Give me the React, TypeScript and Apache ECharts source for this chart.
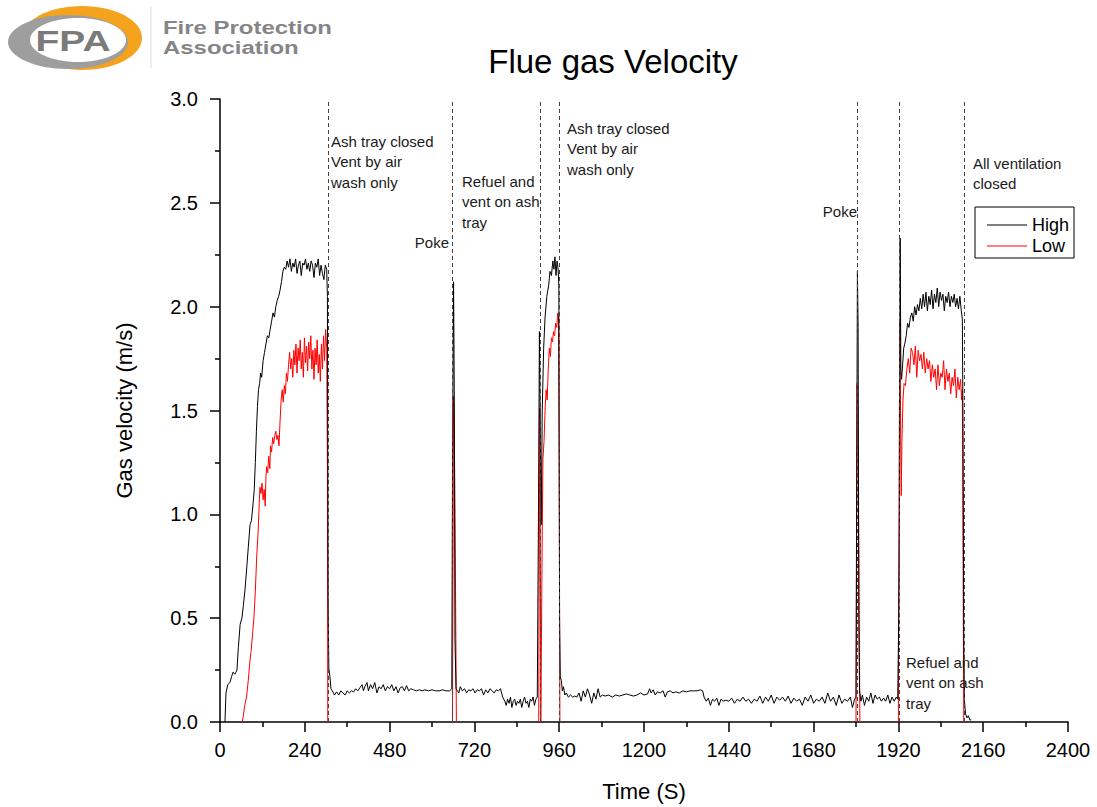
import React, { useEffect, useRef } from "react";
import * as echarts from "echarts";

const FONT = '"Liberation Sans", Arial, Helvetica, sans-serif';

// ---------- axis ----------
const X_MIN = 0;
const X_MAX = 2400;
const X_STEP = 240;
const Y_MIN = 0;
const Y_MAX = 3;
const Y_STEP = 0.5;

// ---------- event markers (time, s) ----------
const EVENT_TIMES = [306, 658, 905, 959, 1803, 1922, 2107];

const ANNOTATION_TEXTS = [
  "Ash tray closed\nVent by air\nwash only",
  "Poke",
  "Refuel and\nvent on ash\ntray",
  "Ash tray closed\nVent by air\nwash only",
  "Poke",
  "Refuel and\nvent on ash\ntray",
  "All ventilation\nclosed",
];

// ---------- High (black) ----------
const HIGH_RISE_1 = [
  [14, 0.0], [17, 0.14], [22, 0.18], [28, 0.19], [33, 0.22], [37, 0.24], [42, 0.23], [48, 0.25],
  [52, 0.36], [57, 0.47], [62, 0.5], [66, 0.56], [71, 0.64], [76, 0.75], [80, 0.84], [85, 0.95],
  [89, 0.97], [93, 1.04], [97, 1.12], [100, 1.25], [103, 1.4], [106, 1.52], [109, 1.6], [112, 1.63],
  [115, 1.68], [118, 1.66], [122, 1.74], [126, 1.78], [130, 1.82], [134, 1.86], [138, 1.85],
  [142, 1.89], [146, 1.93], [150, 1.97], [154, 1.95], [158, 2.0], [162, 2.03], [166, 2.05],
  [170, 2.08], [174, 2.12], [178, 2.17], [182, 2.19], [186, 2.18], [190, 2.22], [194, 2.19],
  [198, 2.23], [202, 2.17], [206, 2.21], [210, 2.19], [214, 2.23], [218, 2.16], [222, 2.2],
  [226, 2.22], [230, 2.15], [234, 2.21], [238, 2.2], [242, 2.23], [246, 2.18], [250, 2.21],
  [254, 2.17], [258, 2.22], [262, 2.2], [266, 2.14], [270, 2.21], [274, 2.19], [278, 2.23],
  [282, 2.15], [286, 2.2], [290, 2.16], [294, 2.13], [298, 2.2], [302, 2.18], [304, 2.05],
  [306, 0.6], [308, 0.26], [311, 0.22], [314, 0.16],
];
const HIGH_BASE_1 = [
  [318, 0.15], [324, 0.13], [330, 0.145], [336, 0.13], [342, 0.15], [348, 0.14], [354, 0.13],
  [360, 0.15], [366, 0.14], [372, 0.15], [378, 0.145], [384, 0.16], [390, 0.15], [396, 0.165],
  [402, 0.18], [406, 0.15], [410, 0.17], [416, 0.19], [420, 0.15], [426, 0.18], [432, 0.16],
  [438, 0.19], [444, 0.14], [450, 0.17], [456, 0.16], [462, 0.18], [468, 0.15], [474, 0.17],
  [480, 0.16], [486, 0.18], [492, 0.15], [498, 0.17], [504, 0.14], [510, 0.165], [516, 0.17],
  [522, 0.15], [528, 0.175], [534, 0.15], [540, 0.16], [548, 0.155], [556, 0.15], [564, 0.155],
  [572, 0.15], [580, 0.155], [590, 0.15], [600, 0.155], [610, 0.15], [620, 0.15], [630, 0.155],
  [640, 0.15], [650, 0.15], [656, 0.16],
];
const HIGH_POKE_1 = [[658, 1.2], [661, 2.12], [663, 1.6], [665, 0.4], [668, 0.16]];
const HIGH_BASE_2 = [
  [672, 0.15], [676, 0.14], [680, 0.17], [686, 0.15], [692, 0.16], [698, 0.14], [704, 0.155],
  [710, 0.15], [716, 0.16], [722, 0.14], [728, 0.155], [734, 0.15], [740, 0.16], [746, 0.13],
  [752, 0.155], [758, 0.14], [764, 0.16], [770, 0.15], [776, 0.14], [782, 0.155], [788, 0.15],
  [794, 0.16], [800, 0.12], [806, 0.1], [810, 0.08], [814, 0.11], [818, 0.09], [822, 0.12],
  [826, 0.07], [830, 0.1], [834, 0.11], [838, 0.08], [842, 0.1], [846, 0.09], [850, 0.11],
  [854, 0.07], [858, 0.1], [862, 0.12], [866, 0.09], [870, 0.1], [874, 0.07], [878, 0.11],
  [882, 0.1], [886, 0.12], [890, 0.08], [894, 0.11], [898, 0.12],
];
const HIGH_HUMP_2 = [
  [901, 0.9], [904, 1.88], [907, 1.3], [909, 0.95], [912, 1.5], [916, 1.8], [920, 1.95],
  [925, 2.05], [930, 2.1], [934, 2.17], [938, 2.15], [942, 2.22], [945, 2.18], [948, 2.24],
  [951, 2.15], [954, 2.22], [957, 2.18], [959, 2.1], [961, 0.5], [963, 0.22], [966, 0.2],
  [969, 0.15], [972, 0.17], [976, 0.13],
];
const HIGH_BASE_3 = [
  [980, 0.14], [986, 0.12], [992, 0.13], [998, 0.12], [1004, 0.125], [1010, 0.12], [1016, 0.14],
  [1022, 0.1], [1028, 0.15], [1034, 0.12], [1040, 0.16], [1046, 0.13], [1052, 0.09], [1058, 0.14],
  [1064, 0.11], [1070, 0.16], [1076, 0.12], [1082, 0.13], [1090, 0.125], [1100, 0.13],
  [1110, 0.12], [1120, 0.13], [1130, 0.125], [1140, 0.13], [1150, 0.135], [1160, 0.13],
  [1170, 0.125], [1180, 0.13], [1190, 0.14], [1200, 0.13], [1210, 0.135], [1216, 0.16],
  [1220, 0.14], [1226, 0.155], [1232, 0.13], [1238, 0.145], [1246, 0.14], [1254, 0.15],
  [1260, 0.12], [1266, 0.145], [1274, 0.15], [1282, 0.14], [1290, 0.145], [1300, 0.14],
  [1310, 0.15], [1320, 0.145], [1330, 0.15], [1340, 0.15], [1350, 0.15], [1360, 0.155],
  [1366, 0.15], [1370, 0.12], [1376, 0.1], [1382, 0.115], [1388, 0.08], [1394, 0.11], [1400, 0.1],
  [1406, 0.115], [1412, 0.08], [1418, 0.11], [1424, 0.1], [1432, 0.105], [1440, 0.1],
  [1448, 0.115], [1456, 0.09], [1464, 0.11], [1472, 0.1], [1480, 0.12], [1488, 0.1], [1496, 0.11],
  [1504, 0.09], [1512, 0.11], [1520, 0.1], [1528, 0.125], [1536, 0.09], [1544, 0.12], [1552, 0.1],
  [1560, 0.13], [1568, 0.09], [1576, 0.12], [1584, 0.105], [1592, 0.12], [1600, 0.1],
  [1608, 0.125], [1616, 0.09], [1624, 0.115], [1632, 0.1], [1640, 0.11], [1648, 0.08],
  [1656, 0.12], [1664, 0.1], [1672, 0.13], [1680, 0.09], [1688, 0.11], [1696, 0.1], [1704, 0.12],
  [1712, 0.09], [1720, 0.14], [1728, 0.1], [1736, 0.12], [1744, 0.08], [1752, 0.13], [1760, 0.09],
  [1768, 0.11], [1776, 0.1], [1784, 0.12], [1790, 0.07], [1796, 0.11], [1800, 0.12],
];
const HIGH_POKE_2 = [[1802, 1.2], [1804, 2.17], [1806, 1.9], [1808, 0.5], [1810, 0.15]];
const HIGH_BASE_4 = [
  [1814, 0.1], [1818, 0.13], [1824, 0.08], [1830, 0.12], [1836, 0.1], [1842, 0.14], [1848, 0.09],
  [1854, 0.13], [1860, 0.11], [1866, 0.12], [1872, 0.1], [1878, 0.115], [1884, 0.1], [1890, 0.13],
  [1896, 0.09], [1902, 0.12], [1908, 0.1], [1914, 0.12], [1918, 0.11],
];
const HIGH_HUMP_3 = [
  [1921, 0.5], [1923, 1.02], [1925, 2.33], [1927, 1.7], [1929, 1.65], [1932, 1.72], [1935, 1.8],
  [1938, 1.82], [1942, 1.86], [1946, 1.92], [1950, 1.9], [1954, 1.95], [1958, 1.97], [1962, 1.93],
  [1966, 2.0], [1970, 1.96], [1974, 2.01], [1978, 1.98], [1982, 2.04], [1986, 1.99], [1990, 2.06],
  [1994, 2.0], [1998, 2.07], [2002, 1.98], [2006, 2.05], [2010, 2.01], [2014, 2.08], [2018, 1.99],
  [2022, 2.06], [2026, 2.02], [2030, 2.09], [2034, 2.0], [2038, 2.07], [2042, 2.03], [2046, 2.06],
  [2050, 1.98], [2054, 2.05], [2058, 2.02], [2062, 2.07], [2066, 2.0], [2070, 2.05], [2074, 2.02],
  [2078, 2.06], [2082, 2.0], [2086, 2.04], [2090, 1.99], [2094, 2.05], [2098, 1.98], [2101, 1.94],
  [2103, 1.4], [2105, 0.4], [2107, 0.1], [2110, 0.04], [2114, 0.02], [2118, 0.03], [2122, 0.01],
  [2126, 0.01],
];

// ---------- Low (red) ----------
const LOW_RISE_1 = [
  [63, 0], [66, 0.03], [70, 0.08], [75, 0.12], [80, 0.2], [85, 0.3], [88, 0.34], [92, 0.42],
  [96, 0.5], [100, 0.63], [104, 0.8], [108, 0.92], [111, 1.05], [113, 1.13], [116, 1.1],
  [119, 1.15], [122, 1.07], [125, 1.12], [128, 1.04], [130, 1.18], [132, 1.23], [135, 1.2],
  [138, 1.28], [141, 1.22], [143, 1.33], [146, 1.3], [149, 1.37], [152, 1.34], [155, 1.38],
  [158, 1.4], [161, 1.36], [164, 1.38], [167, 1.33], [170, 1.45], [173, 1.55], [176, 1.6],
  [179, 1.54], [182, 1.62], [185, 1.58], [188, 1.68], [191, 1.64], [194, 1.72], [197, 1.78],
  [200, 1.7], [203, 1.75], [206, 1.66], [209, 1.79], [212, 1.72], [215, 1.82], [218, 1.68],
  [221, 1.8], [224, 1.74], [227, 1.84], [230, 1.7], [233, 1.78], [236, 1.66], [239, 1.85],
  [242, 1.73], [245, 1.81], [248, 1.69], [251, 1.83], [254, 1.75], [257, 1.86], [260, 1.7],
  [263, 1.79], [266, 1.65], [269, 1.8], [272, 1.72], [275, 1.84], [278, 1.68], [281, 1.77],
  [284, 1.64], [287, 1.82], [290, 1.7], [293, 1.86], [296, 1.74], [299, 1.89], [302, 1.8],
  [304, 1.2], [305, 0],
];
const LOW_POKE_1 = [[658, 0], [660, 1.0], [661, 1.57], [663, 1.45], [666, 0.8], [669, 0]];
const LOW_HUMP_2 = [
  [902, 0], [904, 1.0], [905, 1.51], [907, 0.6], [908, 0], [910, 0], [912, 0.9], [914, 1.27],
  [917, 1.35], [920, 1.5], [923, 1.6], [926, 1.55], [929, 1.7], [932, 1.8], [935, 1.76],
  [938, 1.85], [941, 1.83], [944, 1.88], [947, 1.86], [950, 1.92], [953, 1.9], [956, 1.97],
  [958, 1.95], [960, 1.2], [962, 0],
];
const LOW_POKE_2 = [[1800, 0], [1802, 1.0], [1803, 1.63], [1805, 1.5], [1808, 0.8], [1811, 0]];
const LOW_HUMP_3 = [
  [1920, 0], [1922, 1.2], [1924, 1.94], [1926, 1.5], [1928, 1.09], [1930, 1.35], [1933, 1.55],
  [1936, 1.63], [1940, 1.62], [1944, 1.7], [1948, 1.75], [1952, 1.68], [1956, 1.8], [1960, 1.78],
  [1964, 1.72], [1968, 1.81], [1972, 1.66], [1976, 1.79], [1980, 1.74], [1984, 1.77], [1988, 1.7],
  [1992, 1.78], [1996, 1.68], [2000, 1.75], [2004, 1.7], [2008, 1.74], [2012, 1.64], [2016, 1.72],
  [2020, 1.66], [2024, 1.7], [2028, 1.6], [2032, 1.72], [2036, 1.62], [2040, 1.68], [2044, 1.66],
  [2048, 1.74], [2052, 1.6], [2056, 1.7], [2060, 1.64], [2064, 1.68], [2068, 1.58], [2072, 1.66],
  [2076, 1.62], [2080, 1.7], [2084, 1.56], [2088, 1.66], [2092, 1.6], [2096, 1.65], [2099, 1.55],
  [2101, 1.6], [2103, 0.8], [2105, 0],
];

const HIGH_DATA = [
  ...HIGH_RISE_1, ...HIGH_BASE_1, ...HIGH_POKE_1, ...HIGH_BASE_2, ...HIGH_HUMP_2,
  ...HIGH_BASE_3, ...HIGH_POKE_2, ...HIGH_BASE_4, ...HIGH_HUMP_3,
];

function joinWithGaps(segments: number[][][]) {
  const out: any[] = [];
  segments.forEach((seg, i) => {
    if (i > 0) out.push([seg[0][0] - 1, null]);
    out.push(...seg);
  });
  return out;
}
const LOW_DATA = joinWithGaps([LOW_RISE_1, LOW_POKE_1, LOW_HUMP_2, LOW_POKE_2, LOW_HUMP_3]);

// annotation layout (pixels) — index matches ANNOTATION_TEXTS
const ANNOTATION_LAYOUT = [
  { x: 331, y: 131, align: "left" },
  { x: 449, y: 232, align: "right" },
  { x: 462, y: 171, align: "left" },
  { x: 567, y: 118, align: "left" },
  { x: 857, y: 201, align: "right" },
  { x: 906, y: 652, align: "left" },
  { x: 973, y: 153, align: "left" },
];

export default function App() {
  const ref = useRef<HTMLDivElement>(null);

  useEffect(() => {
    if (!ref.current) return;
    const chart = echarts.init(ref.current, undefined, { renderer: "svg" });

    const annotations = ANNOTATION_TEXTS.map((t, i) => ({
      type: "text",
      x: ANNOTATION_LAYOUT[i].x,
      y: ANNOTATION_LAYOUT[i].y,
      z: 10,
      style: {
        text: t,
        fontSize: 15,
        fontFamily: FONT,
        fill: "#1a1a1a",
        lineHeight: 20.5,
        align: ANNOTATION_LAYOUT[i].align,
        verticalAlign: "top",
      },
    }));

    const logo = {
      type: "group",
      z: 10,
      children: [
        { type: "ellipse", shape: { cx: 82, cy: 38, rx: 60, ry: 32 }, style: { fill: "#F5A21C" } },
        { type: "ellipse", shape: { cx: 68, cy: 42, rx: 60, ry: 27 }, style: { fill: "#9E9E9E" } },
        { type: "ellipse", shape: { cx: 78, cy: 40, rx: 48, ry: 22 }, style: { fill: "#ffffff" } },
        {
          type: "text",
          x: 73,
          y: 41,
          scaleX: 1.3,
          style: {
            text: "FPA",
            fontSize: 30,
            fontWeight: "bold",
            fontFamily: FONT,
            fill: "#7a7a7a",
            align: "center",
            verticalAlign: "middle",
          },
        },
        { type: "line", shape: { x1: 151, y1: 6, x2: 151, y2: 68 }, style: { stroke: "#dddddd", lineWidth: 1 } },
        {
          type: "text",
          x: 163,
          y: 27,
          scaleX: 1.26,
          style: {
            text: "Fire Protection",
            fontSize: 19,
            fontWeight: "bold",
            fontFamily: FONT,
            fill: "#858585",
            verticalAlign: "middle",
          },
        },
        {
          type: "text",
          x: 163,
          y: 47,
          scaleX: 1.26,
          style: {
            text: "Association",
            fontSize: 19,
            fontWeight: "bold",
            fontFamily: FONT,
            fill: "#858585",
            verticalAlign: "middle",
          },
        },
      ],
    };

    const title = {
      type: "text",
      x: 613,
      y: 61,
      style: {
        text: "Flue gas Velocity",
        fontSize: 33,
        fontFamily: FONT,
        fill: "#000",
        align: "center",
        verticalAlign: "middle",
      },
    };

    chart.setOption({
      animation: false,
      backgroundColor: "#ffffff",
      grid: { left: 220, right: 29, top: 99, bottom: 85, containLabel: false },
      legend: {
        orient: "vertical",
        left: 975,
        top: 207,
        padding: [9, 5, 3, 12],
        itemGap: 3,
        itemWidth: 40,
        itemHeight: 1,
        icon: "rect",
        borderColor: "#000",
        borderWidth: 1,
        textStyle: { fontSize: 18, color: "#000", fontFamily: FONT },
        data: ["High", "Low"],
      },
      xAxis: {
        type: "value",
        min: X_MIN,
        max: X_MAX,
        interval: X_STEP,
        name: "Time (S)",
        nameLocation: "middle",
        nameGap: 58,
        nameTextStyle: { fontSize: 22, color: "#000", fontFamily: FONT },
        axisLine: { show: true, onZero: false, lineStyle: { color: "#000", width: 1.5 } },
        axisTick: { show: true, length: 10, lineStyle: { color: "#000", width: 1.5 } },
        minorTick: { show: true, splitNumber: 2, length: 5, lineStyle: { color: "#000", width: 1.5 } },
        axisLabel: {
          fontSize: 20,
          color: "#000",
          fontFamily: FONT,
          margin: 18,
          formatter: (v: number) => String(v),
        },
        splitLine: { show: false },
      },
      yAxis: {
        type: "value",
        min: Y_MIN,
        max: Y_MAX,
        interval: Y_STEP,
        name: "Gas velocity (m/s)",
        nameLocation: "middle",
        nameGap: 85,
        nameTextStyle: { fontSize: 22, color: "#000", fontFamily: FONT },
        axisLine: { show: true, lineStyle: { color: "#000", width: 1.5 } },
        axisTick: { show: true, length: 10, lineStyle: { color: "#000", width: 1.5 } },
        minorTick: { show: true, splitNumber: 2, length: 5, lineStyle: { color: "#000", width: 1.5 } },
        axisLabel: {
          fontSize: 20,
          color: "#000",
          fontFamily: FONT,
          margin: 22,
          formatter: (v: number) => v.toFixed(1),
        },
        splitLine: { show: false },
      },
      series: [
        {
          name: "High",
          type: "line",
          data: HIGH_DATA,
          symbol: "none",
          showSymbol: false,
          lineStyle: { color: "#000000", width: 1 },
          itemStyle: { color: "#000000" },
          z: 3,
          markLine: {
            silent: true,
            symbol: ["none", "none"],
            label: { show: false },
            lineStyle: { color: "#444", type: [4, 3], width: 1 },
            data: EVENT_TIMES.map((t) => ({ xAxis: t })),
          },
        },
        {
          name: "Low",
          type: "line",
          data: LOW_DATA,
          symbol: "none",
          showSymbol: false,
          connectNulls: false,
          lineStyle: { color: "#ff0000", width: 1 },
          itemStyle: { color: "#ff0000" },
          z: 2,
        },
      ],
      graphic: [logo, title, ...annotations],
    });

    return () => chart.dispose();
  }, []);

  return (
    <div
      ref={ref}
      style={{ position: "absolute", left: 0, top: 0, width: 1097, height: 807, background: "#fff" }}
    />
  );
}
